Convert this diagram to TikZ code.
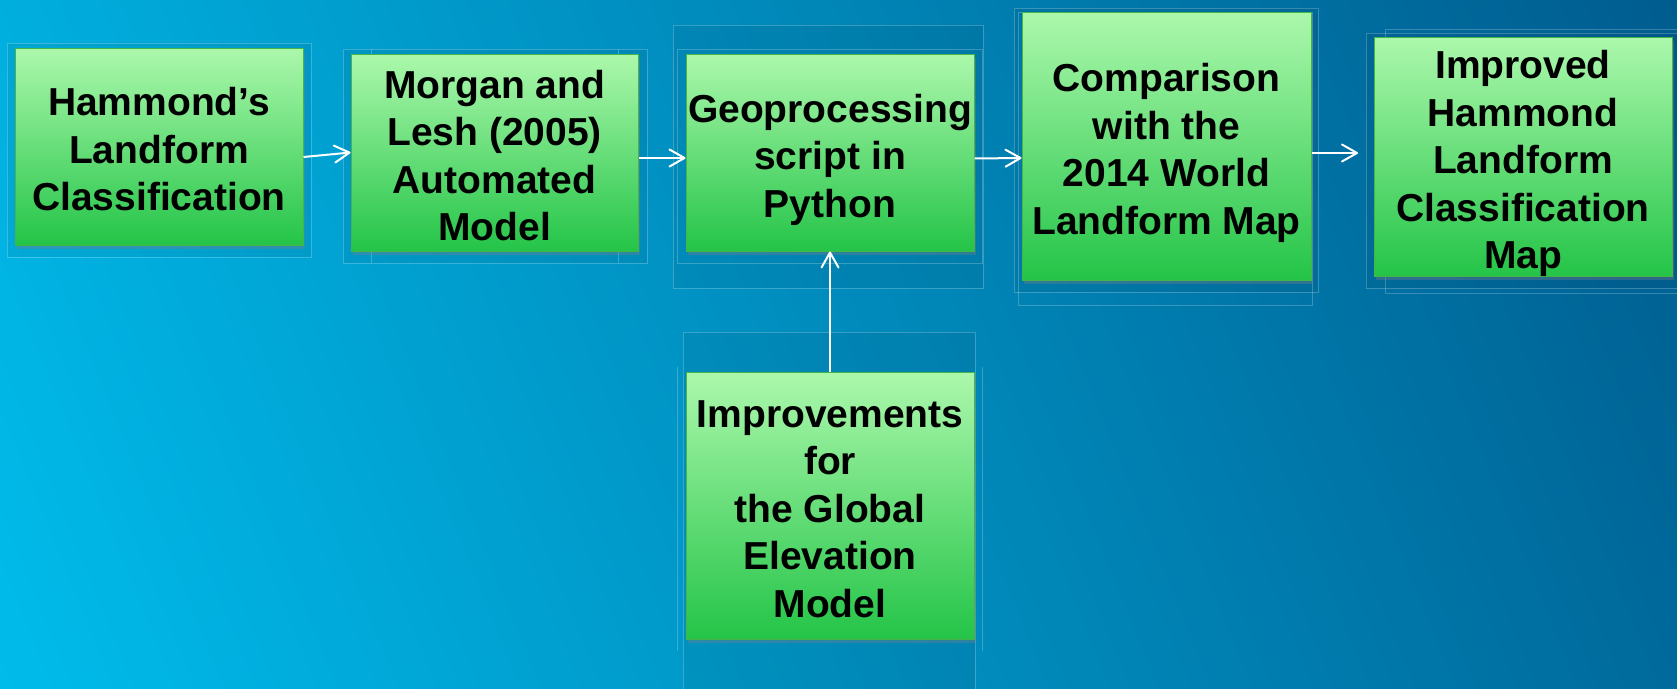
\documentclass[tikz,border=0pt]{standalone}
\usepackage{fontspec}
\setmainfont{Liberation Sans}
\usetikzlibrary{arrows.meta,shadows}
\definecolor{bgA}{RGB}{0,188,235}
\definecolor{bgB}{RGB}{0,92,143}
\definecolor{gTop}{RGB}{172,248,172}
\definecolor{gBot}{RGB}{36,196,72}
\definecolor{gEdge}{RGB}{70,180,70}
\newcommand{\toplift}{\rule{0pt}{34pt}}
\pgfdeclareverticalshading{bgshade}{100bp}{color(0bp)=(bgA); color(17.5bp)=(bgA); color(82.5bp)=(bgB); color(100bp)=(bgB)}
\tikzset{
  stage/.style={rectangle, draw=gEdge, line width=1pt, top color=gTop, bottom color=gBot,
    align=center, inner sep=0pt, text=black,
    font=\fontsize{39}{47.5}\selectfont\bfseries,
    drop shadow={shadow xshift=2pt, shadow yshift=-4pt, opacity=0.35}},
  flow/.style={draw=white, line width=2pt, -{Straight Barb[length=15pt,width=17pt,round]}},
  frame/.style={draw=white, draw opacity=0.22, line width=0.8pt, fill=black, fill opacity=0.05},
  frameline/.style={draw=white, draw opacity=0.22, line width=0.8pt}
}
\begin{document}
\begin{tikzpicture}[x=1pt,y=-1pt]
\useasboundingbox (0,0) rectangle (1677,688);
\shade[shading=bgshade, shading angle=-68] (0,0) rectangle (1677,688);
% faint frames
\path[frame] (7,43) rectangle (311,257);
\path[frame] (343,49) rectangle (647,263);
\draw[frameline] (371,49) -- (371,263);
\draw[frameline] (618,49) -- (618,263);
\path[frame] (673,25) rectangle (983,288);
\path[frameline] (677,49) rectangle (982,263);
\path[frame] (683,332) rectangle (975,700);
\draw[frameline] (677,367) -- (677,651);
\draw[frameline] (982,367) -- (982,651);
\path[frame] (1014,8) rectangle (1318,292);
\path[frameline] (1018,12) rectangle (1312,305);
\path[frame] (1366,33) rectangle (1690,288);
\path[frameline] (1385,29) rectangle (1690,293);
% stages
\node[stage, minimum width=288pt, minimum height=197pt] (ham) at (159,146.5)
  {\toplift Hammond’s\\Landform\\Classification};
\node[stage, minimum width=287pt, minimum height=197pt] (mor) at (494.5,152.5)
  {\toplift Morgan and\\Lesh (2005)\\Automated\\Model};
\node[stage, minimum width=288pt, minimum height=197pt] (geo) at (830,152.5)
  {\toplift Geoprocessing\\script in\\\raisebox{0pt}[\height][0pt]{Python}};
\node[stage, minimum width=288pt, minimum height=267pt] (imp) at (830,505.5)
  {\toplift Improvements\\for\\the Global\\Elevation\\Model};
\node[stage, minimum width=289pt, minimum height=268pt] (cmp) at (1166.5,146)
  {\toplift Comparison\\with the\\2014 World\\\raisebox{0pt}[\height][0pt]{Landform Map}};
\node[stage, minimum width=298pt, minimum height=239pt] (out) at (1523,156.5)
  {\toplift Improved\\Hammond\\Landform\\Classification\\\raisebox{0pt}[\height][0pt]{Map}};
% connectors
\coordinate (a4end) at (1358,153);
\draw[flow] ([yshift=-10.5pt]ham.east) -- (mor.west);
\draw[flow] ([yshift=-5.5pt]mor.east) -- ([yshift=-5.5pt]geo.west);
\draw[flow] ([yshift=-6pt]geo.east) -- ([yshift=-12pt]cmp.west);
\draw[flow] ([yshift=-7pt]cmp.east) -- (a4end);
\draw[flow] (imp.north) -- (geo.south);
\end{tikzpicture}
\end{document}
